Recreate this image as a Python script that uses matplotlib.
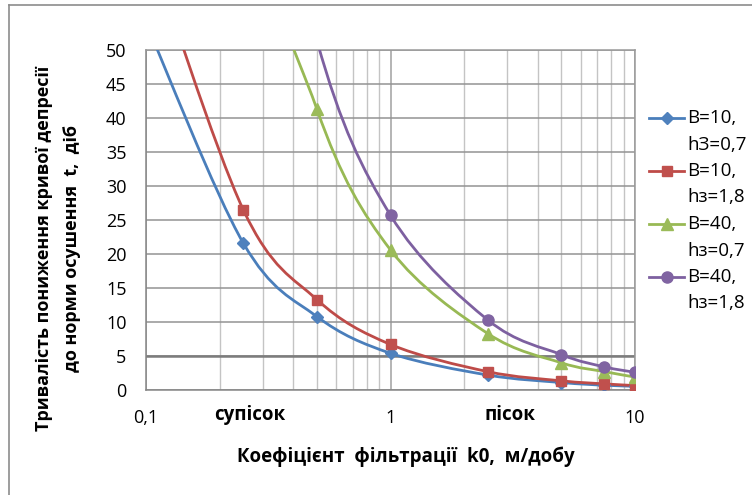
import numpy as np
import matplotlib
matplotlib.use("Agg")
import matplotlib.pyplot as plt
from matplotlib.path import Path
from matplotlib.patches import PathPatch
from matplotlib.lines import Line2D
from matplotlib.transforms import blended_transform_factory

plt.rcParams['font.family'] = ['Open Sans', 'DejaVu Sans']

# coefficient of filtration, m/day
k0 = [0.1, 0.25, 0.5, 1, 2.5, 5, 7.5, 10]

# time to lower the depression curve, days
t_b10_h07 = [54, 21.6, 10.8, 5.4, 2.2, 1.1, 0.7, 0.55]
t_b10_h18 = [66.5, 26.5, 13.3, 6.7, 2.7, 1.35, 0.9, 0.65]
t_b40_h07 = [206, 82, 41.3, 20.6, 8.3, 4.0, 2.7, 1.9]
t_b40_h18 = [257, 103, 51.4, 25.7, 10.3, 5.2, 3.4, 2.6]

series_labels = [("В=10,", "hЗ=0,7"), ("В=10,", "hз=1,8"),
                 ("В=40,", "hз=0,7"), ("В=40,", "hз=1,8")]
x_ticks = [0.1, 1, 10]
x_tick_labels = ["0,1", "1", "10"]
y_ticks = list(range(0, 55, 5))

W, H = 752, 495
FS = 13.5


def fx(px):
    return px / W


def fy(py):
    return 1 - py / H


def smooth_path(xs, ys):
    # excel-like smoothed line: bezier through points in (log x, y) space
    pts = np.column_stack([np.log10(xs), ys]).astype(float)
    n = len(pts)
    verts = [pts[0]]
    codes = [Path.MOVETO]
    for i in range(n - 1):
        p0 = pts[i - 1] if i > 0 else pts[i]
        p1 = pts[i]
        p2 = pts[i + 1]
        p3 = pts[i + 2] if i + 2 < n else pts[i + 1]
        verts += [p1 + (p2 - p0) / 6, p2 - (p3 - p1) / 6, p2]
        codes += [Path.CURVE4] * 3
    verts = np.array(verts)
    verts[:, 0] = 10 ** verts[:, 0]
    return Path(verts, codes)


fig = plt.figure(figsize=(W / 100, H / 100), dpi=100)
ax = fig.add_axes([fx(146), fy(390), fx(635 - 146), (390 - 50) / H])

ax.set_xscale('log')
ax.set_xlim(0.1, 10)
ax.set_ylim(0, 50)

# gridlines
ax.set_xticks(x_ticks)
ax.set_xticklabels(x_tick_labels)
ax.set_yticks(y_ticks)
ax.xaxis.set_minor_locator(matplotlib.ticker.LogLocator(base=10, subs=range(2, 10)))
ax.xaxis.set_minor_formatter(matplotlib.ticker.NullFormatter())
ax.grid(True, which='major', axis='x', color='#a0a0a0', lw=1.1)
ax.grid(True, which='minor', axis='x', color='#c4c4c4', lw=1.0)
ax.grid(True, which='major', axis='y', color='#939393', lw=1.1)
ax.axhline(5, color='#7c7c7c', lw=1.8, zorder=1)
ax.set_axisbelow(True)
for s in ax.spines.values():
    s.set_color('#9a9a9a')
    s.set_linewidth(1.1)
ax.spines['left'].set_color('#868686')
ax.spines['bottom'].set_color('#868686')
ax.tick_params(which='both', length=0, labelsize=13, pad=14)

styles = [
    (t_b10_h07, '#4a7ebb', '#4f81bd', 'D', 6.5),
    (t_b10_h18, '#be4b48', '#c0504d', 's', 6.5),
    (t_b40_h07, '#98b954', '#9bbb59', '^', 8),
    (t_b40_h18, '#7d60a0', '#8064a2', 'o', 8),
]

for ys, lc, mc, mk, ms in styles:
    patch = PathPatch(smooth_path(k0, ys), facecolor='none', edgecolor=lc,
                      lw=2.0, zorder=3, capstyle='round')
    ax.add_patch(patch)
    ax.plot(k0, ys, linestyle='none', marker=mk, ms=ms, color=mc,
            markeredgecolor=mc, zorder=4)

# soil type captions under the axis
tr = blended_transform_factory(ax.transData, fig.transFigure)
ax.text(0.266, fy(415), "супісок", transform=tr, ha='center', va='center',
        fontsize=FS, fontweight='bold')
ax.text(3.09, fy(415), "пісок", transform=tr, ha='center', va='center',
        fontsize=FS, fontweight='bold')

# axis titles
fig.text(fx(406), fy(457), "Коефіцієнт  фільтрації  k0,  м/добу",
         ha='center', va='center', fontsize=FS, fontweight='bold')
fig.text(fx(44), fy(248), "Тривалість пониження кривої депресії",
         ha='center', va='center', rotation=90, fontsize=13, fontweight='bold')
fig.text(fx(72), fy(248), "до норми осушення  t,  діб",
         ha='center', va='center', rotation=90, fontsize=13, fontweight='bold')

# legend
for i, ((l1, l2), (ys, lc, mc, mk, ms)) in enumerate(zip(series_labels, styles)):
    yy = 118 + i * 53
    fig.add_artist(Line2D([fx(649), fx(666.5), fx(684)], [fy(yy)] * 3,
                          color=lc, lw=2.0, marker=mk, ms=ms, markevery=[1],
                          markerfacecolor=mc, markeredgecolor=mc))
    fig.text(fx(687), fy(yy), l1, ha='left', va='center', fontsize=FS)
    fig.text(fx(687), fy(yy + 26.5), l2, ha='left', va='center', fontsize=FS)

# chart border (top and left visible)
fig.add_artist(Line2D([fx(9), fx(760)], [fy(5), fy(5)], color='#8c8c8c', lw=1.2))
fig.add_artist(Line2D([fx(9), fx(9)], [fy(5), fy(500)], color='#8c8c8c', lw=1.2))

fig.savefig('out.png', dpi=100)
